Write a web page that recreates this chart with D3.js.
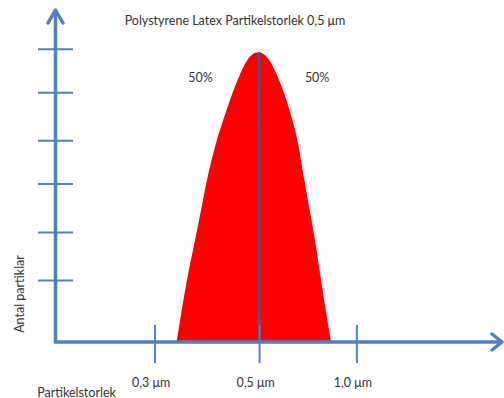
<!DOCTYPE html>
<html>
<head>
<meta charset="utf-8">
<script src="https://cdn.jsdelivr.net/npm/d3@7"></script>
<style>
  html, body { margin: 0; padding: 0; background: #fff; }
  svg { display: block; }
  text { font-family: Lato, "Open Sans", sans-serif; fill: #333; }
</style>
</head>
<body>
<script>
// ---- data ----
const title = "Polystyrene Latex Partikelstorlek 0,5 μm";
const xAxisTitle = "Partikelstorlek";
const yAxisTitle = "Antal partiklar";
const xTickLabels = ["0,3 μm", "0,5 μm", "1,0 μm"];
const xTickPos = [22.3, 45.7, 67.5];
const yTickPos = [18.5, 33.0, 47.6, 60.6, 75.1, 88.2];
const curveX = [27.14, 29.52, 31.02, 32.52, 34.00, 35.83, 38.19, 40.94, 42.73, 45.42,
                48.11, 49.90, 52.52, 54.38, 55.65, 56.99, 58.28, 59.40, 61.70];
const curveY = [0, 19.19, 29.22, 39.25, 49.31, 59.34, 69.37, 79.43, 84.43, 87.26,
                84.43, 79.43, 69.37, 59.34, 49.31, 39.25, 29.22, 19.19, 0];
const medianX = 45.6;
const medianY = 87.3;
const shareLabels = ["50%", "50%"];
const shareLabelX = [32.5, 58.6];
const shareLabelY = [79.5, 79.5];

// ---- chart ----
const W = 504, H = 398;
const svg = d3.select("body").append("svg").attr("width", W).attr("height", H);

const x = d3.scaleLinear().domain([0, 100]).range([55.5, 502]);
const y = d3.scaleLinear().domain([0, 100]).range([342, 10]);

const blue = "#4f81bd";

// distribution shape
const pts = curveX.map((v, i) => [v, curveY[i]]);
const line = d3.line().x(d => x(d[0])).y(d => y(d[1])).curve(d3.curveMonotoneX);
svg.append("path")
  .attr("d", line(pts) + "Z")
  .attr("fill", "#ff0000");

// median line
svg.append("line")
  .attr("x1", x(medianX)).attr("x2", x(medianX))
  .attr("y1", y(0)).attr("y2", y(medianY))
  .attr("stroke", "#3d5c93").attr("stroke-width", 2.5);

// axes
svg.append("path")
  .attr("d", `M${x(0)},${y(99.5)} L${x(0)},${y(0)} L${x(99.5)},${y(0)}`)
  .attr("fill", "none").attr("stroke", blue).attr("stroke-width", 3.5)
  .attr("stroke-linejoin", "miter");

// arrowheads
svg.append("path")
  .attr("d", `M${x(0) - 7.5},${y(100) + 13} L${x(0)},${y(100)} L${x(0) + 7.5},${y(100) + 13}`)
  .attr("fill", "none").attr("stroke", blue).attr("stroke-width", 3.5)
  .attr("stroke-linecap", "round").attr("stroke-linejoin", "round");
svg.append("path")
  .attr("d", `M${x(100) - 10},${y(0) - 8} L${x(100)},${y(0)} L${x(100) - 10},${y(0) + 8}`)
  .attr("fill", "none").attr("stroke", blue).attr("stroke-width", 3.5)
  .attr("stroke-linecap", "round").attr("stroke-linejoin", "round");

// y ticks
svg.append("g").selectAll("line").data(yTickPos).join("line")
  .attr("x1", x(0) - 17.5).attr("x2", x(0) + 17.5)
  .attr("y1", d => y(d)).attr("y2", d => y(d))
  .attr("stroke", blue).attr("stroke-width", 2);

// x ticks
svg.append("g").selectAll("line").data(xTickPos).join("line")
  .attr("x1", d => x(d)).attr("x2", d => x(d))
  .attr("y1", y(0) - 17).attr("y2", y(0) + 21)
  .attr("stroke", blue).attr("stroke-width", 2);

// x tick labels
svg.append("g").selectAll("text").data(xTickLabels).join("text")
  .attr("x", (d, i) => x(xTickPos[i]) - 4)
  .attr("y", 387)
  .attr("text-anchor", "middle")
  .attr("font-size", 12.5)
  .text(d => d);

// title
svg.append("text").attr("x", 235).attr("y", 24.5)
  .attr("text-anchor", "middle").attr("font-size", 12.5).text(title);

// 50% labels
svg.append("g").selectAll("text").data(shareLabels).join("text")
  .attr("x", (d, i) => x(shareLabelX[i]))
  .attr("y", (d, i) => y(shareLabelY[i]) + 4)
  .attr("text-anchor", "middle").attr("font-size", 12.5).text(d => d);

// axis titles
svg.append("text").attr("x", 76.5).attr("y", 396.5)
  .attr("text-anchor", "middle").attr("font-size", 12.5).text(xAxisTitle);
svg.append("text").attr("transform", "translate(24,294) rotate(-90)")
  .attr("text-anchor", "middle").attr("font-size", 12.5).text(yAxisTitle);
</script>
</body>
</html>
